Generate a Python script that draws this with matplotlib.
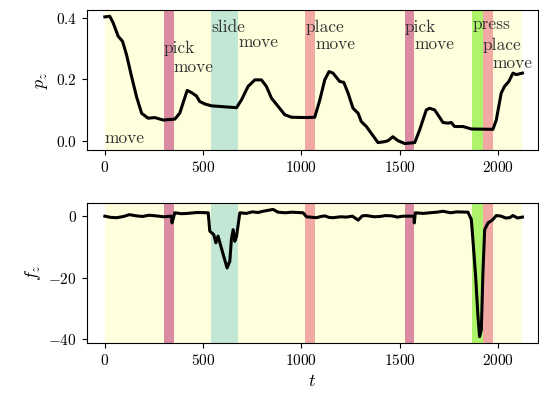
import matplotlib
matplotlib.use("Agg")
import matplotlib.pyplot as plt

plt.rcParams['font.family'] = 'serif'
plt.rcParams['font.serif'] = ['cmr10']
plt.rcParams['mathtext.fontset'] = 'cm'
plt.rcParams['axes.formatter.use_mathtext'] = True
plt.rcParams['font.size'] = 11

# phase segments (start, end, label)
seg_start = [0, 300, 350, 540, 680, 1020, 1070, 1525, 1575, 1870, 1925, 1975]
seg_end = [300, 350, 540, 680, 1020, 1070, 1525, 1575, 1870, 1925, 1975, 2125]
seg_label = ['move', 'pick', 'move', 'slide', 'move', 'place', 'move', 'pick', 'move', 'press', 'place', 'move']
label_y = [-0.007, 0.286, 0.224, 0.354, 0.306, 0.354, 0.299, 0.354, 0.299, 0.364, 0.296, 0.237]

phase_colors = {
    'move': '#ffffdd',
    'pick': '#db8ba1',
    'slide': '#c2e8d5',
    'place': '#f2a8a3',
    'press': '#aef46b',
}

# p_z trace
t_p = [0, 25, 42, 68, 90, 110, 136, 161, 187, 220, 254, 297, 356, 381, 419, 441, 466, 483, 509,
       543, 670, 695, 729, 763, 797, 822, 848, 882, 916, 950, 1026, 1068, 1094, 1119, 1141, 1161,
       1195, 1216, 1238, 1263, 1289, 1305, 1331, 1356, 1390, 1424, 1441, 1466, 1492, 1526, 1577,
       1602, 1636, 1653, 1678, 1695, 1721, 1746, 1763, 1780, 1823, 1865, 1975, 1992, 2017, 2034,
       2056, 2077, 2094, 2125]
pz = [0.402, 0.404, 0.383, 0.339, 0.323, 0.28, 0.209, 0.144, 0.09, 0.074, 0.076, 0.068, 0.071, 0.09,
      0.164, 0.157, 0.146, 0.128, 0.12, 0.114, 0.108, 0.133, 0.177, 0.198, 0.198, 0.177, 0.139,
      0.112, 0.085, 0.077, 0.076, 0.077, 0.133, 0.198, 0.225, 0.22, 0.193, 0.19, 0.155, 0.106,
      0.09, 0.063, 0.047, 0.025, -0.005, -0.002, 0.001, 0.014, 0.001, -0.008, -0.005, 0.036,
      0.101, 0.106, 0.101, 0.085, 0.06, 0.058, 0.06, 0.047, 0.047, 0.039, 0.038, 0.068, 0.155,
      0.177, 0.193, 0.22, 0.215, 0.22]

# f_z trace
t_f = [0, 30, 60, 95, 125, 160, 190, 225, 260, 300, 339, 342, 356, 390, 420, 470, 526, 534, 554,
       565, 576, 593, 610, 622, 636, 644, 653, 661, 670, 687, 720, 750, 780, 805, 856, 881, 920,
       950, 1009, 1026, 1077, 1100, 1120, 1140, 1161, 1200, 1230, 1260, 1289, 1310, 1331, 1370,
       1400, 1430, 1460, 1490, 1517, 1573, 1575, 1580, 1620, 1653, 1690, 1721, 1760, 1790, 1848,
       1865, 1873, 1887, 1899, 1907, 1916, 1924, 1933, 1950, 1972, 1992, 2017, 2040, 2060, 2077,
       2100, 2125]
fz = [0.1, -0.3, -0.4, 0.0, 0.6, 0.2, 0.0, 0.4, 0.2, -0.1, 0.1, -2.1, 1.2, 0.9, 1.0, 1.3, 1.2,
      -4.8, -5.9, -8.6, -6.4, -10.3, -14.1, -16.8, -14.6, -7.5, -4.3, -8.1, -6.5, 1.2, 1.0, 1.5,
      1.3, 1.7, 2.3, 1.4, 1.2, 1.4, 1.2, -0.1, -0.4, 0.0, 0.2, -0.3, -0.4, -0.1, -0.2, 0.1, -1.2,
      0.2, 0.3, -0.1, 0.0, 0.3, 0.2, -0.2, 0.1, 0.1, -2.1, 1.2, 1.0, 1.2, 1.4, 1.7, 1.2, 1.5, 1.4,
      -1.0, -7.5, -19.6, -32.7, -39.2, -37.0, -18.5, -4.3, -2.1, -1.2, 0.3, 0.1, -0.5, -0.4, 0.3,
      -0.5, -0.2]

fig, (ax1, ax2) = plt.subplots(2, 1, figsize=(5.39, 3.97), dpi=100)
fig.subplots_adjust(left=0.161, right=0.998, top=0.975, bottom=0.136, hspace=0.38)

for ax in (ax1, ax2):
    for s, e, lab in zip(seg_start, seg_end, seg_label):
        ax.axvspan(s, e, color=phase_colors[lab], lw=0, zorder=0)

ax1.plot(t_p, pz, color='black', lw=2.2)
ax2.plot(t_f, fz, color='black', lw=2.2)

for s, lab, y in zip(seg_start, seg_label, label_y):
    ax1.text(s, y, lab, ha='left', va='baseline', fontsize=12.5, color='#333333')

ax1.set_ylabel('$p_z$', fontsize=13)
ax2.set_ylabel('$f_z$', fontsize=13)
ax2.set_xlabel('$t$', fontsize=13)
ax1.set_yticks([0.0, 0.2, 0.4])
ax2.set_yticks([0, -20, -40])
for ax in (ax1, ax2):
    ax.set_xticks([0, 500, 1000, 1500, 2000])
    ax.set_xlim(-92, 2204)

plt.savefig("out.png", dpi=100)
plt.close()
